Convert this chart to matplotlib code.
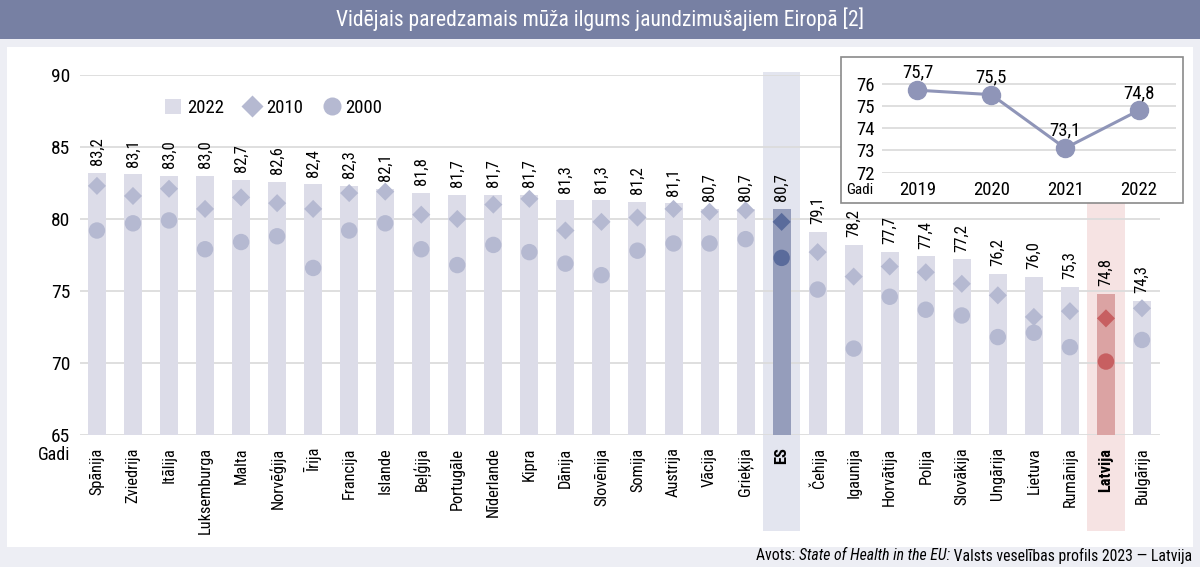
import matplotlib
matplotlib.use('Agg')
import matplotlib.pyplot as plt
from matplotlib.patches import Rectangle, Patch
from matplotlib.lines import Line2D
import matplotlib.transforms as mtransforms
from matplotlib import font_manager

# look for a narrow face, the reference uses a condensed grotesque
fonts = font_manager.fontManager.ttflist
narrow = None
for want in ['Liberation Sans Narrow', 'Roboto Condensed', 'Open Sans Condensed']:
    if any(f.name == want for f in fonts):
        narrow = want
        break
if narrow is None and any(f.name == 'DejaVu Sans' and f.stretch == 'condensed' for f in fonts):
    narrow = 'DejaVu Sans'
    plt.rcParams['font.stretch'] = 'condensed'
if narrow is None:
    narrow = 'Liberation Sans'
plt.rcParams['font.family'] = [narrow, 'DejaVu Sans']

countries = ['Spānija', 'Zviedrija', 'Itālija', 'Luksemburga', 'Malta', 'Norvēģija', 'Īrija',
             'Francija', 'Islande', 'Beļģija', 'Portugāle', 'Nīderlande', 'Kipra', 'Dānija',
             'Slovēnija', 'Somija', 'Austrija', 'Vācija', 'Grieķija', 'ES', 'Čehija', 'Igaunija',
             'Horvātija', 'Polija', 'Slovākija', 'Ungārija', 'Lietuva', 'Rumānija', 'Latvija',
             'Bulgārija']
v2022 = [83.2, 83.1, 83.0, 83.0, 82.7, 82.6, 82.4, 82.3, 82.1, 81.8, 81.7, 81.7, 81.7, 81.3,
         81.3, 81.2, 81.1, 80.7, 80.7, 80.7, 79.1, 78.2, 77.7, 77.4, 77.2, 76.2, 76.0, 75.3,
         74.8, 74.3]
v2010 = [82.3, 81.6, 82.1, 80.7, 81.5, 81.1, 80.7, 81.8, 81.9, 80.3, 80.0, 81.0, 81.4, 79.2,
         79.8, 80.1, 80.7, 80.5, 80.6, 79.8, 77.7, 76.0, 76.7, 76.3, 75.5, 74.7, 73.2, 73.6,
         73.1, 73.8]
v2000 = [79.2, 79.7, 79.9, 77.9, 78.4, 78.8, 76.6, 79.2, 79.7, 77.9, 76.8, 78.2, 77.7, 76.9,
         76.1, 77.8, 78.3, 78.3, 78.6, 77.3, 75.1, 71.0, 74.6, 73.7, 73.3, 71.8, 72.1, 71.1,
         70.1, 71.6]

inset_years = [2019, 2020, 2021, 2022]
inset_lv = [75.7, 75.5, 73.1, 74.8]

title = 'Vidējais paredzamais mūža ilgums jaundzimušajiem Eiropā [2]'

# colours
bg = '#EDEEF4'
head = '#7780A3'
bar_c = '#DCDCE8'
mark_c = '#B5B9D1'
es_bar, es_mark, es_band = '#959DBB', '#5A6B9B', '#E3E5EF'
lv_bar, lv_mark, lv_band = '#DBA3A3', '#C75F61', '#F6E3E3'
grid_c = '#DCDCDC'


def fmt(v):
    return f'{v:.1f}'.replace('.', ',')


W, H = 1200, 567
fig = plt.figure(figsize=(12, 5.67), dpi=100, facecolor=bg)

# header band and white panel
fig.add_artist(Rectangle((0, 1 - 39 / H), 1, 39 / H, transform=fig.transFigure,
                         facecolor=head, edgecolor='none', zorder=-2))
fig.add_artist(Rectangle((7 / W, 1 - 547 / H), 1186 / W, 500 / H, transform=fig.transFigure,
                         facecolor='white', edgecolor='none', zorder=-2))
fig.text(0.5, 1 - 19 / H, title, color='white', fontsize=15.5, ha='center', va='center')

ax = fig.add_axes([80 / W, 1 - 435 / H, 1080 / W, 360 / H])
ax.set_facecolor('none')
x = list(range(len(countries)))
ax.set_xlim(-0.47, 29.5)
ax.set_ylim(65, 90)

# highlight bands for ES and Latvija
trans = mtransforms.blended_transform_factory(ax.transData, ax.transAxes)
for name, col in [('ES', es_band), ('Latvija', lv_band)]:
    i = countries.index(name)
    ax.add_patch(Rectangle((i - 0.52, -0.267), 1.04, 1.275, transform=trans,
                           facecolor=col, edgecolor='none', clip_on=False, zorder=0))

for yv in range(65, 91, 5):
    ax.axhline(yv, color=grid_c, lw=1.3, zorder=1)

bar_cols = [es_bar if c == 'ES' else lv_bar if c == 'Latvija' else bar_c for c in countries]
mk_cols = [es_mark if c == 'ES' else lv_mark if c == 'Latvija' else mark_c for c in countries]
ax.bar(x, [v - 65 for v in v2022], bottom=65, width=0.5, color=bar_cols, zorder=2)
ax.scatter(x, v2010, marker='D', s=85, c=mk_cols, linewidths=0, zorder=3)
ax.scatter(x, v2000, marker='o', s=140, c=mk_cols, linewidths=0, zorder=3)

for i, v in enumerate(v2022):
    ax.annotate(fmt(v), (i, v), xytext=(0, 5.5), textcoords='offset points', rotation=90,
                ha='center', va='bottom', fontsize=12)

for s in ax.spines.values():
    s.set_visible(False)
ax.set_yticks(range(65, 91, 5))
ax.tick_params(axis='y', length=0, pad=7, labelsize=14)
ax.set_xticks(x)
ax.set_xticklabels(countries, rotation=90, fontsize=11.8)
ax.tick_params(axis='x', length=0, pad=9)
for lab in ax.get_xticklabels():
    if lab.get_text() in ('ES', 'Latvija'):
        lab.set_fontweight('bold')
fig.text(70 / W, 1 - 455 / H, 'Gadi', ha='right', va='center', fontsize=13)

handles = [Patch(facecolor=bar_c, edgecolor='none'),
           Line2D([], [], ls='none', marker='D', ms=11, mfc=mark_c, mec='none'),
           Line2D([], [], ls='none', marker='o', ms=13, mfc=mark_c, mec='none')]
ax.legend(handles, ['2022', '2010', '2000'], ncol=3, frameon=False, fontsize=13.5,
          loc='center left', bbox_to_anchor=(0.072, 0.908), handlelength=0.85,
          handleheight=0.85, handletextpad=0.3, columnspacing=1.1, borderaxespad=0)

# inset with Latvia 2019-2022
fig.add_artist(Rectangle((841 / W, 1 - 203 / H), 342 / W, 146 / H, transform=fig.transFigure,
                         facecolor='white', edgecolor='#8A8A8A', lw=1.2, zorder=5))
ax2 = fig.add_axes([882 / W, 1 - 172.7 / H, 294 / W, 111.5 / H], zorder=6)
ax2.set_facecolor('none')
ax2.set_xlim(2018.52, 2022.5)
ax2.set_ylim(72, 77)
for yv in range(72, 77):
    ax2.axhline(yv, color=grid_c, lw=1.3, zorder=1)
ax2.plot(inset_years, inset_lv, color='#8F95B8', lw=2.2, marker='o', ms=13, zorder=3)
for xv, yv in zip(inset_years, inset_lv):
    ax2.annotate(fmt(yv), (xv, yv), xytext=(0, 6), textcoords='offset points',
                 ha='center', va='bottom', fontsize=13.5)
for s in ax2.spines.values():
    s.set_visible(False)
ax2.set_yticks(range(72, 77))
ax2.set_xticks(inset_years)
ax2.tick_params(length=0, labelsize=13.5)
ax2.tick_params(axis='y', pad=5)
ax2.tick_params(axis='x', pad=6)
fig.text(873 / W, 1 - 190 / H, 'Gadi', ha='right', va='center', fontsize=11, zorder=7)

# source line: normal + italic + normal, right aligned
renderer = fig.canvas.get_renderer()
ys = 1 - 556 / H
t3 = fig.text(1192 / W, ys, ' Valsts veselības profils 2023 — Latvija', ha='right',
              va='center', fontsize=11.3)
x3 = t3.get_window_extent(renderer).x0 / W
t2 = fig.text(x3, ys, 'State of Health in the EU:', ha='right', va='center', fontsize=11.3,
              style='italic')
x2 = t2.get_window_extent(renderer).x0 / W
fig.text(x2, ys, 'Avots: ', ha='right', va='center', fontsize=11.3)

fig.savefig('out.png', dpi=100, facecolor=bg)
